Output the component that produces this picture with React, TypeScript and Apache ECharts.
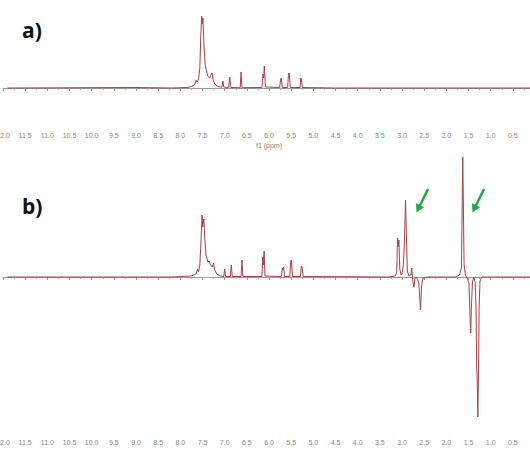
import React, { useEffect, useRef } from "react";
import * as echarts from "echarts";

// ppm tick settings
const PPM_MIN = 0;
const PPM_MAX = 12;
const PPM_STEP = 0.5;

// a) 1H NMR spectrum: [ppm, intensity]
const spectrumA: [number, number][] = [
  [11.9, 0], [9.0, 0.5], [8.2, 0], [7.85, 0.5], [7.75, 1.5], [7.68, 3], [7.64, 8], [7.62, 6],
  [7.59, 9], [7.56, 20], [7.54, 50], [7.52, 72], [7.505, 64], [7.49, 70], [7.47, 45], [7.44, 24],
  [7.41, 17], [7.38, 12], [7.34, 10], [7.3, 14], [7.28, 15], [7.26, 8], [7.22, 4], [7.17, 2],
  [7.1, 1], [7.06, 1], [7.04, 7], [7.02, 1], [6.91, 0.5], [6.885, 11], [6.86, 0.5], [6.65, 0.3],
  [6.63, 16], [6.61, 0.3], [6.16, 0.5], [6.135, 14], [6.12, 10], [6.105, 22], [6.08, 1],
  [5.76, 0.5], [5.74, 8], [5.725, 10], [5.7, 0.5], [5.58, 0.5], [5.56, 14], [5.545, 15],
  [5.52, 0.5], [5.3, 0.5], [5.285, 10], [5.27, 9], [5.25, 0.5], [4.5, 0], [0.1, 0],
];

// b) spectrum with positive and negative signals: [ppm, intensity]
const spectrumB: [number, number][] = [
  [11.9, 0], [8.2, 0], [7.75, 1], [7.65, 3], [7.61, 8], [7.59, 5], [7.56, 12], [7.53, 40],
  [7.51, 62], [7.495, 50], [7.47, 58], [7.45, 40], [7.42, 22], [7.38, 15], [7.35, 16], [7.32, 12],
  [7.28, 10], [7.25, 14], [7.23, 8], [7.18, 3], [7.1, 1], [7.02, 0.5], [7.0, 8], [6.98, 0.5],
  [6.87, 0.5], [6.85, 12], [6.83, 0.5], [6.63, 0.5], [6.61, 17], [6.59, 0.5], [6.16, 0.5],
  [6.14, 20], [6.125, 12], [6.11, 26], [6.09, 1], [5.72, 0.5], [5.7, 9], [5.685, 7], [5.67, 10],
  [5.65, 0.5], [5.53, 0.5], [5.51, 16], [5.495, 17], [5.47, 0.5], [5.29, 0.5], [5.27, 11],
  [5.255, 10], [5.23, 0.5], [3.3, 0], [3.15, 1], [3.12, 5], [3.1, 39], [3.085, 30], [3.07, 37],
  [3.05, 8], [3.02, 2], [3.0, 3], [2.97, 12], [2.95, 30], [2.92, 77], [2.9, 40], [2.88, 6],
  [2.84, 1], [2.8, 2], [2.78, 9], [2.765, 0], [2.75, -6], [2.73, -10], [2.71, -2], [2.68, 0],
  [2.65, -2], [2.62, -6], [2.6, -22], [2.58, -33], [2.56, -10], [2.53, -1], [2.4, 0], [1.8, 0],
  [1.7, 2], [1.66, 10], [1.645, 60], [1.63, 120], [1.615, 70], [1.6, 12], [1.57, 2], [1.53, -1],
  [1.49, -6], [1.465, -40], [1.45, -56], [1.435, -30], [1.41, -5], [1.38, 0], [1.35, -5],
  [1.33, -30], [1.315, -90], [1.3, -110], [1.29, -140], [1.275, -100], [1.26, -30], [1.24, -4],
  [1.2, 0], [0.1, 0],
];

const LINE_COLOR = "#a54343";
const ARROW_COLOR = "#22a846";

function makeXAxis(gridIndex: number) {
  return {
    type: "value",
    gridIndex,
    min: PPM_MIN,
    max: PPM_MAX,
    interval: PPM_STEP,
    inverse: true,
    name: "f1 (ppm)",
    nameLocation: "middle",
    nameGap: 14,
    nameTextStyle: { fontSize: 7, color: "#888", fontFamily: "Liberation Sans" },
    axisLine: { show: true, lineStyle: { color: "#999", width: 1 } },
    axisTick: { show: true, length: 3, lineStyle: { color: "#999" } },
    minorTick: { show: true, splitNumber: 2, length: 2, lineStyle: { color: "#aaa" } },
    splitLine: { show: false },
    minorSplitLine: { show: false },
    axisLabel: {
      fontSize: 7,
      color: "#888",
      margin: 4,
      fontFamily: "Liberation Sans",
      showMinLabel: true,
      showMaxLabel: true,
      hideOverlap: false,
      formatter: (v: number) => v.toFixed(1),
    },
  };
}

function arrow(tx: number, ty: number, hx: number, hy: number) {
  const dx = hx - tx;
  const dy = hy - ty;
  const len = Math.sqrt(dx * dx + dy * dy);
  const ux = dx / len;
  const uy = dy / len;
  const hl = 8;
  const hw = 4.5;
  const bx = hx - ux * hl;
  const by = hy - uy * hl;
  const px = -uy;
  const py = ux;
  return [
    {
      type: "line",
      shape: { x1: tx, y1: ty, x2: bx + ux * 1, y2: by + uy * 1 },
      style: { stroke: ARROW_COLOR, lineWidth: 2.5 },
    },
    {
      type: "polygon",
      shape: {
        points: [
          [hx, hy],
          [bx + px * hw, by + py * hw],
          [bx - px * hw, by - py * hw],
        ],
      },
      style: { fill: ARROW_COLOR },
    },
  ];
}

export default function App() {
  const ref = useRef<HTMLDivElement>(null);
  useEffect(() => {
    if (!ref.current) return;
    const chart = echarts.init(ref.current, null, { renderer: "svg" });
    chart.setOption({
      animation: false,
      backgroundColor: "#fff",
      grid: [
        { left: 3, right: -5, top: 10, height: 118, outerBoundsMode: "none", containLabel: false },
        { left: 3, right: -5, top: 150, height: 285, outerBoundsMode: "none", containLabel: false },
      ],
      xAxis: [makeXAxis(0), makeXAxis(1)],
      yAxis: [
        { type: "value", gridIndex: 0, min: -40, max: 78, show: false },
        { type: "value", gridIndex: 1, min: -158, max: 127, show: false },
      ],
      series: [
        {
          type: "line",
          xAxisIndex: 0,
          yAxisIndex: 0,
          data: spectrumA,
          showSymbol: false,
          lineStyle: { color: LINE_COLOR, width: 1 },
          itemStyle: { color: LINE_COLOR },
        },
        {
          type: "line",
          xAxisIndex: 1,
          yAxisIndex: 1,
          data: spectrumB,
          showSymbol: false,
          lineStyle: { color: LINE_COLOR, width: 1 },
          itemStyle: { color: LINE_COLOR },
        },
      ],
      graphic: [
        {
          type: "text",
          left: 22,
          top: 19,
          style: { text: "a)", font: "bold 21px 'Open Sans', 'Liberation Sans', sans-serif", fill: "#111" },
        },
        {
          type: "text",
          left: 22,
          top: 195,
          style: { text: "b)", font: "bold 21px 'Open Sans', 'Liberation Sans', sans-serif", fill: "#111" },
        },
        ...arrow(428, 189, 416.5, 212.5),
        ...arrow(484, 189, 472.5, 212.5),
      ],
    });
    return () => chart.dispose();
  }, []);
  return (
    <div
      ref={ref}
      style={{ position: "absolute", left: 0, top: 0, width: 530, height: 450 }}
    />
  );
}
